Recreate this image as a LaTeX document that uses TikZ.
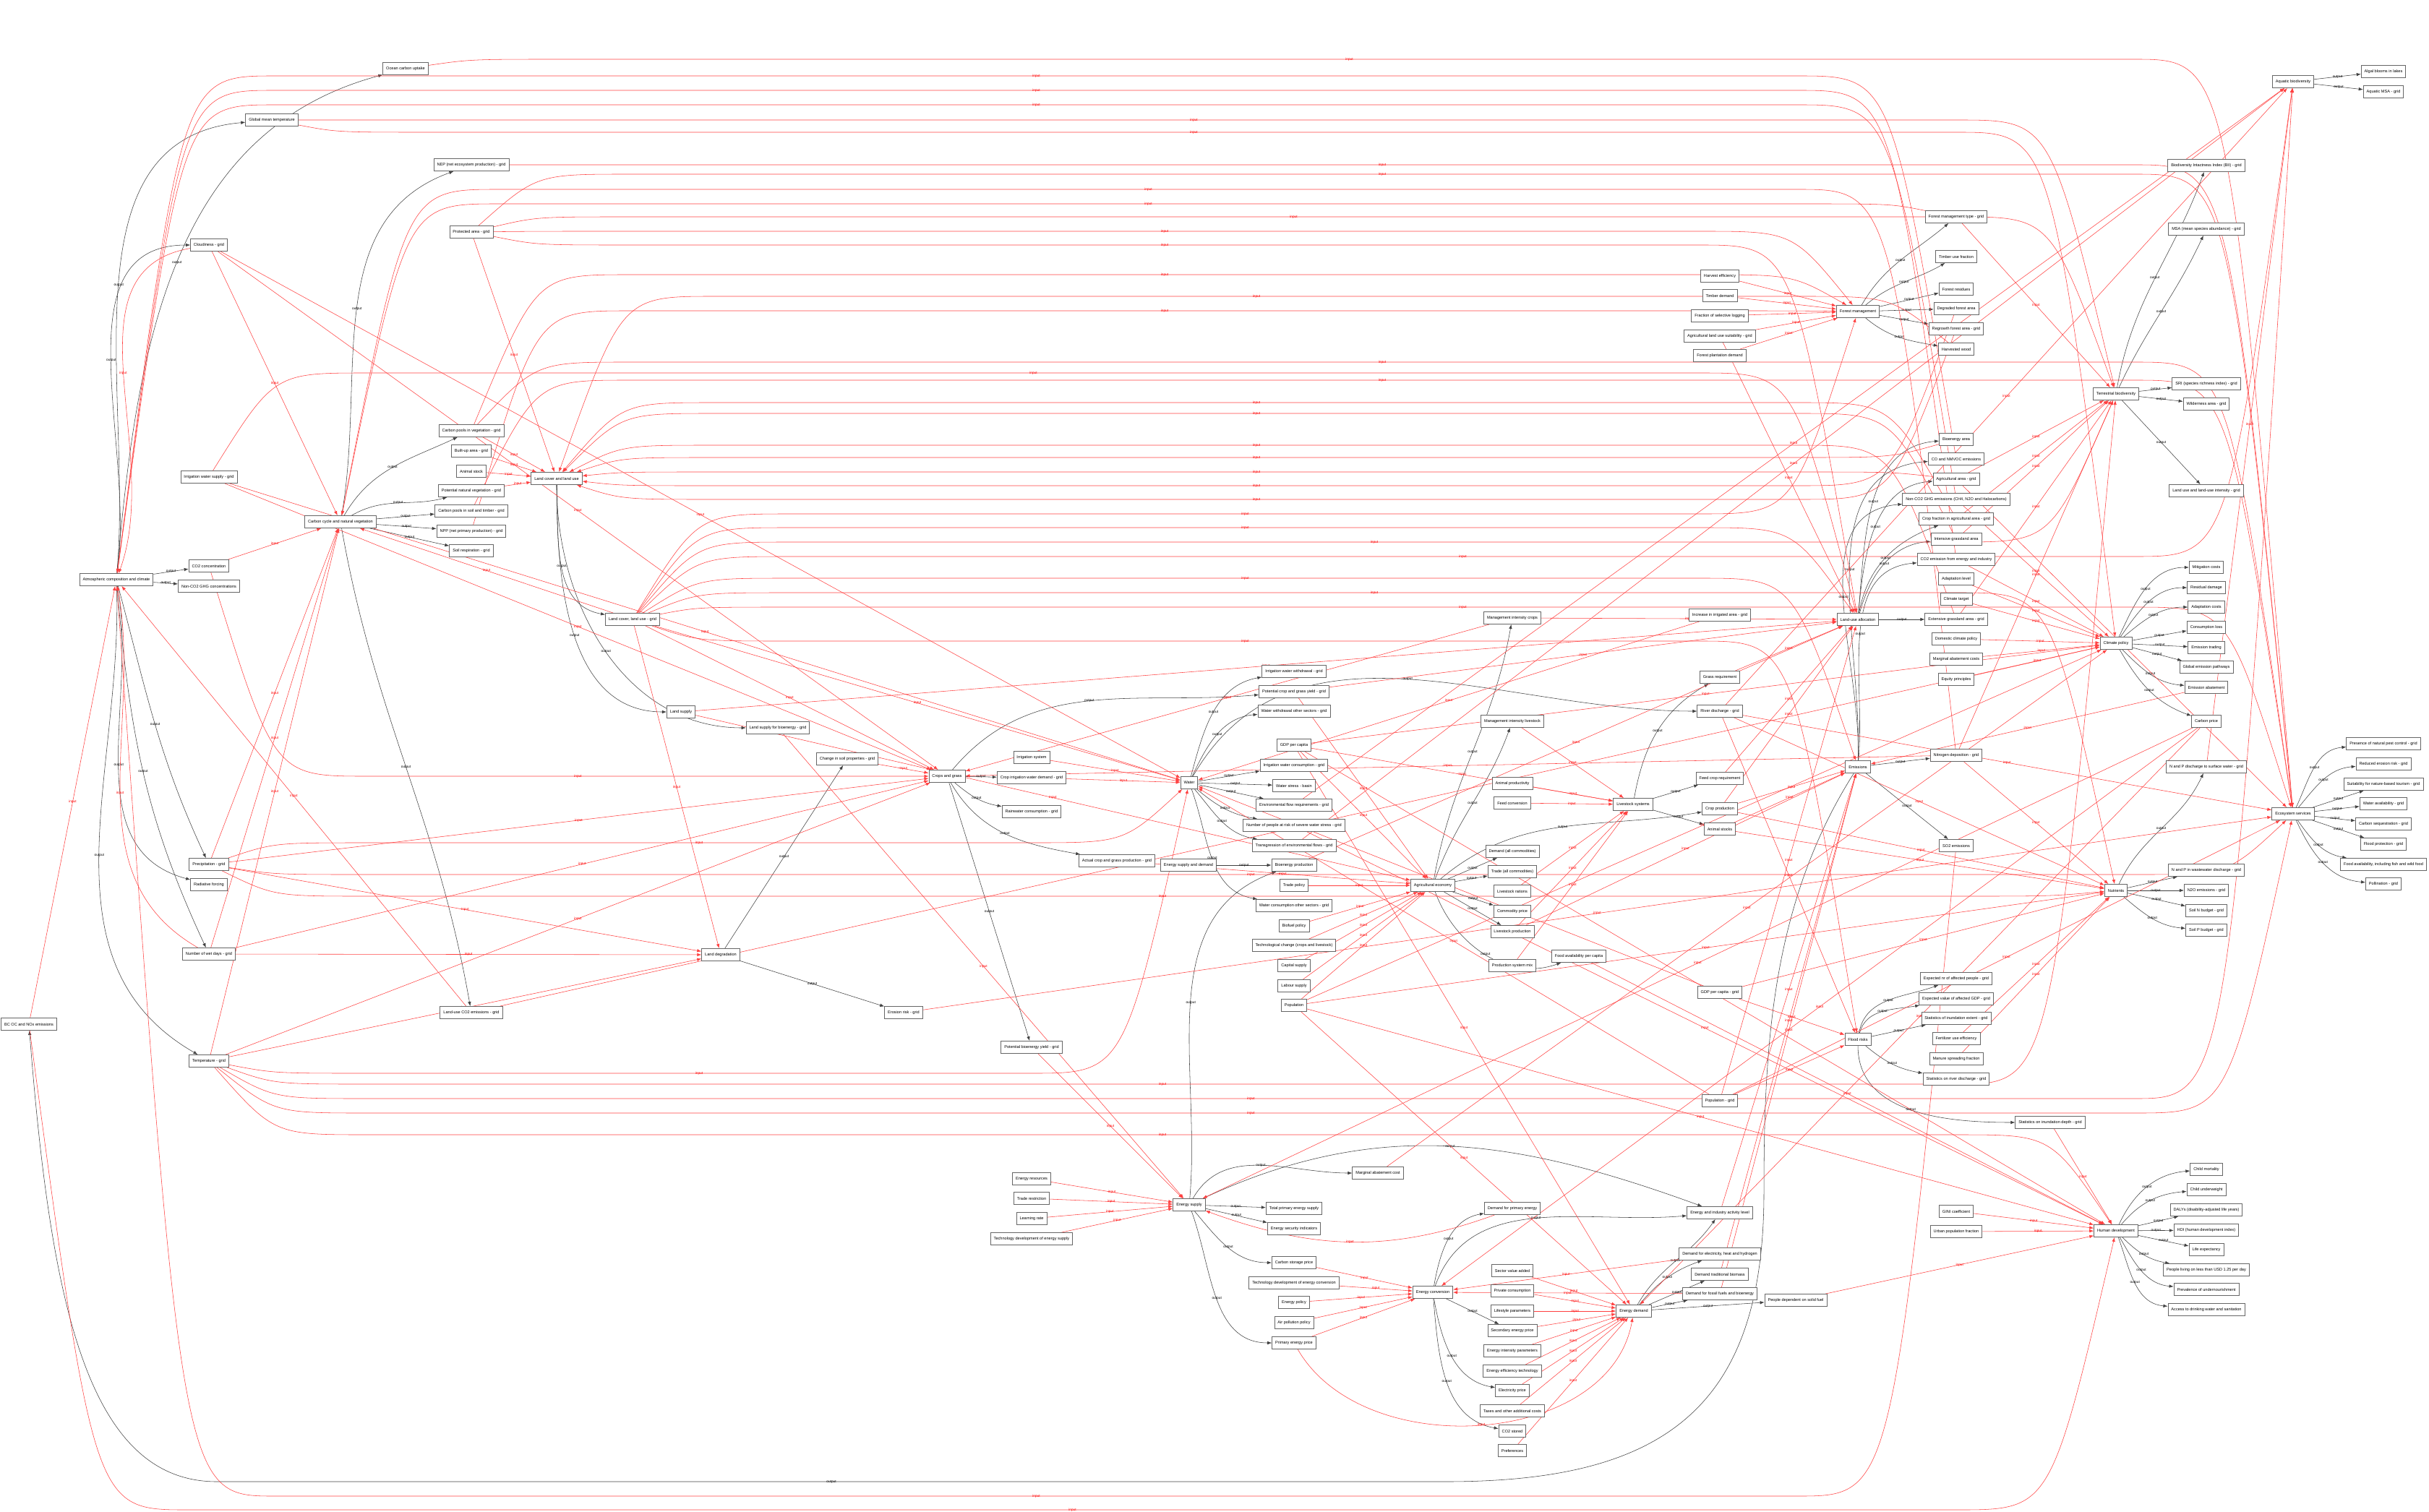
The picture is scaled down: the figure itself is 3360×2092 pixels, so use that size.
\documentclass[tikz,border=0pt]{standalone}
\usepackage{fontspec}
\setmainfont{Liberation Sans}
\usetikzlibrary{arrows.meta,calc}
\pgfdeclarelayer{back}
\pgfdeclarelayer{bg}
\pgfsetlayers{back,bg,main}
\tikzset{
 box/.style={draw=black!60, line width=0.9pt, fill=white, font=\fontsize{5.6}{6.5}\selectfont, inner xsep=4.5pt, inner ysep=1pt, minimum height=17pt},
 inp/.style={draw=red!75, line width=0.55pt, -{Latex[length=6pt,width=4.5pt]}},
 outp/.style={draw=black!75, line width=0.55pt, -{Latex[length=6pt,width=4.5pt]}},
 li/.style={font=\fontsize{4.8}{5}\selectfont, text=red, inner sep=0.5pt},
 lo/.style={font=\fontsize{4.8}{5}\selectfont, text=black, inner sep=0.5pt},
}
\newcommand\ist[2]{\draw[inp] (#1) -- node[li]{input} (#2);}
\newcommand\ost[2]{\draw[outp] (#1) -- node[lo]{output} (#2);}
\newcommand\icv[4]{\draw[inp] (#1) to[out=#3,in=#4] node[li]{input} (#2);}
\newcommand\ocv[4]{\draw[outp] (#1) to[out=#3,in=#4] node[lo]{output} (#2);}
\newcommand\fwe[3]{\draw[inp] let \p1=(#1), \p2=(#2) in (#1) .. controls ({\x1+90pt},{-#3pt}) .. ({\x1+220pt},{-#3pt}) -- node[li]{input} ({\x2-220pt},{-#3pt}) .. controls ({\x2-90pt},{-#3pt}) .. (#2);}
\newcommand\bwe[3]{\draw[inp] let \p1=(#1), \p2=(#2) in (#1) .. controls ({\x1-90pt},{-#3pt}) .. ({\x1-220pt},{-#3pt}) -- node[li]{input} ({\x2+220pt},{-#3pt}) .. controls ({\x2+90pt},{-#3pt}) .. (#2);}
\begin{document}
\begin{tikzpicture}[x=1pt,y=1pt]
\useasboundingbox (0,0) rectangle (3360,-2092);
\begin{pgfonlayer}{back}
\fill[white] (0,0) rectangle (3360,-2092);
\end{pgfonlayer}
% ---------- nodes ----------
\node[box] (bcoc) at (40,-1417) {BC OC and NOx emissions};
\node[box] (atm) at (161,-802) {Atmospheric composition and climate};
\node[box] (co2c) at (289,-783) {CO2 concentration};
\node[box] (nonco2c) at (289,-811) {Non-CO2 GHG concentrations};
\node[box] (cloud) at (289,-339) {Cloudiness - grid};
\node[box] (precip) at (289,-1196) {Precipitation - grid};
\node[box] (radf) at (289,-1224) {Radiative forcing};
\node[box] (wetdays) at (289,-1320) {Number of wet days - grid};
\node[box] (temp) at (289,-1468) {Temperature - grid};
\node[box] (irrsup) at (289,-660) {Irrigation water supply - grid};
\node[box] (gmt) at (376,-166) {Global mean temperature};
\node[box] (ocean) at (561,-95) {Ocean carbon uptake};
\node[box] (ccnv) at (471,-722) {Carbon cycle and natural vegetation};
\node[box] (nep) at (652,-228) {NEP (net ecosystem production) - grid};
\node[box] (prot) at (652,-321) {Protected area - grid};
\node[box] (cpveg) at (652,-596) {Carbon pools in vegetation - grid};
\node[box] (built) at (652,-624) {Built-up area - grid};
\node[box] (animst) at (652,-652) {Animal stock};
\node[box] (pnv) at (652,-679) {Potential natural vegetation - grid};
\node[box] (cpsoil) at (652,-707) {Carbon pools in soil and timber - grid};
\node[box] (npp) at (652,-735) {NPP (net primary production) - grid};
\node[box] (soilresp) at (652,-762) {Soil respiration - grid};
\node[box] (luco2) at (652,-1401) {Land-use CO2 emissions - grid};
\node[box] (lclu) at (770,-662) {Land cover and land use};
\node[box] (lclug) at (875,-857) {Land cover, land use - grid};
\node[box] (lsup) at (942,-985) {Land supply};
\node[box] (lsupbio) at (1076,-1007) {Land supply for bioenergy - grid};
\node[box] (soilprop) at (1172,-1050) {Change in soil properties - grid};
\node[box] (landdeg) at (997,-1321) {Land degradation};
\node[box] (erosion) at (1250,-1401) {Erosion risk - grid};
\node[box] (crops) at (1310,-1074) {Crops and grass};
\node[box] (irrsys) at (1427,-1048) {Irrigation system};
\node[box] (cropirr) at (1427,-1076) {Crop irrigation water demand - grid};
\node[box] (rainw) at (1427,-1123) {Rainwater consumption - grid};
\node[box] (actprod) at (1545,-1191) {Actual crop and grass production - grid};
\node[box] (potbio) at (1427,-1449) {Potential bioenergy yield - grid};
\node[box] (enres) at (1427,-1631) {Energy resources};
\node[box] (traderes) at (1427,-1658) {Trade restriction};
\node[box] (learn) at (1427,-1686) {Learning rate};
\node[box] (techsup) at (1427,-1714) {Technology development of energy supply};
\node[box] (water) at (1645,-1083) {Water};
\node[box] (esd) at (1644,-1197) {Energy supply and demand};
\node[box] (esup) at (1645,-1667) {Energy supply};
\node[box] (irrwd) at (1790,-929) {Irrigation water withdrawal - grid};
\node[box] (potyield) at (1790,-957) {Potential crop and grass yield - grid};
\node[box] (wwother) at (1790,-984) {Water withdrawal other sectors - grid};
\node[box] (gdppc) at (1790,-1031) {GDP per capita};
\node[box] (irrcons) at (1790,-1059) {Irrigation water consumption - grid};
\node[box] (wstress) at (1790,-1087) {Water stress - basin};
\node[box] (envflow) at (1790,-1114) {Environmental flow requirements - grid};
\node[box] (nrisk) at (1790,-1142) {Number of people at risk of severe water stress - grid};
\node[box] (transg) at (1790,-1170) {Transgression of environmental flows - grid};
\node[box] (bioprod) at (1790,-1197) {Bioenergy production};
\node[box] (tradepol) at (1790,-1225) {Trade policy};
\node[box] (wcother) at (1790,-1253) {Water consumption other sectors - grid};
\node[box] (biofuel) at (1790,-1281) {Biofuel policy};
\node[box] (techchg) at (1790,-1308) {Technological change (crops and livestock)};
\node[box] (capital) at (1790,-1336) {Capital supply};
\node[box] (labour) at (1790,-1364) {Labour supply};
\node[box] (pop) at (1790,-1391) {Population};
\node[box] (tpes) at (1790,-1672) {Total primary energy supply};
\node[box] (ensec) at (1790,-1700) {Energy security indicators};
\node[box] (cstorp) at (1790,-1747) {Carbon storage price};
\node[box] (techconv) at (1790,-1775) {Technology development of energy conversion};
\node[box] (enpol) at (1790,-1802) {Energy policy};
\node[box] (airpol) at (1790,-1830) {Air pollution policy};
\node[box] (primp) at (1790,-1858) {Primary energy price};
\node[box] (mac) at (1906,-1623) {Marginal abatement cost};
\node[box] (ageco) at (1982,-1225) {Agricultural economy};
\node[box] (enconv) at (1982,-1788) {Energy conversion};
\node[box] (microps) at (2092,-855) {Management intensity crops};
\node[box] (milive) at (2092,-998) {Management intensity livestock};
\node[box] (animprod) at (2092,-1084) {Animal productivity};
\node[box] (feedconv) at (2092,-1111) {Feed conversion};
\node[box] (demand) at (2092,-1178) {Demand (all commodities)};
\node[box] (trade) at (2092,-1206) {Trade (all commodities)};
\node[box] (liverat) at (2092,-1233) {Livestock rations};
\node[box] (comprice) at (2092,-1261) {Commodity price};
\node[box] (liveprod) at (2092,-1289) {Livestock production};
\node[box] (prodmix) at (2092,-1336) {Production system mix};
\node[box] (demprim) at (2092,-1672) {Demand for primary energy};
\node[box] (secval) at (2092,-1758) {Sector value added};
\node[box] (privcons) at (2092,-1786) {Private consumption};
\node[box] (lifestyle) at (2092,-1814) {Lifestyle parameters};
\node[box] (secprice) at (2092,-1841) {Secondary energy price};
\node[box] (enint) at (2092,-1869) {Energy intensity parameters};
\node[box] (eneff) at (2092,-1897) {Energy efficiency technology};
\node[box] (elecp) at (2092,-1924) {Electricity price};
\node[box] (taxes) at (2092,-1952) {Taxes and other additional costs};
\node[box] (co2stored) at (2092,-1980) {CO2 stored};
\node[box] (prefs) at (2092,-2007) {Preferences};
\node[box] (foodav) at (2184,-1323) {Food availability per capita};
\node[box] (livesys) at (2259,-1113) {Livestock systems};
\node[box] (endem) at (2260,-1814) {Energy demand};
\node[box] (harvest) at (2379,-382) {Harvest efficiency};
\node[box] (timberdem) at (2379,-409) {Timber demand};
\node[box] (selog) at (2379,-437) {Fraction of selective logging};
\node[box] (agsuit) at (2379,-465) {Agricultural land use suitability - grid};
\node[box] (plantdem) at (2379,-492) {Forest plantation demand};
\node[box] (incirr) at (2379,-851) {Increase in irrigated area - grid};
\node[box] (grassreq) at (2379,-937) {Grass requirement};
\node[box] (river) at (2379,-984) {River discharge - grid};
\node[box] (feedcrop) at (2379,-1077) {Feed crop requirement};
\node[box] (cropprod) at (2379,-1119) {Crop production};
\node[box] (animstocks) at (2379,-1147) {Animal stocks};
\node[box] (gdpgrid) at (2379,-1373) {GDP per capita - grid};
\node[box] (popgrid) at (2379,-1523) {Population - grid};
\node[box] (eial) at (2379,-1678) {Energy and industry activity level};
\node[box] (demelec) at (2379,-1735) {Demand for electricity, heat and hydrogen};
\node[box] (demtrad) at (2379,-1763) {Demand traditional biomass};
\node[box] (demfossil) at (2379,-1790) {Demand for fossil fuels and bioenergy};
\node[box] (solidfuel) at (2484,-1799) {People dependent on solid fuel};
\node[box] (forman) at (2570,-431) {Forest management};
\node[box] (luall) at (2570,-857) {Land-use allocation};
\node[box] (emis) at (2570,-1061) {Emissions};
\node[box] (flood) at (2570,-1438) {Flood risks};
\node[box] (fmtype) at (2706,-300) {Forest management type - grid};
\node[box] (timberuse) at (2706,-355) {Timber use fraction};
\node[box] (forres) at (2706,-400) {Forest residues};
\node[box] (degfor) at (2706,-427) {Degraded forest area};
\node[box] (regrow) at (2706,-455) {Regrowth forest area - grid};
\node[box] (harvwood) at (2706,-483) {Harvested wood};
\node[box] (bioarea) at (2706,-608) {Bioenergy area};
\node[box] (conmvoc) at (2706,-635) {CO and NMVOC emissions};
\node[box] (agarea) at (2706,-663) {Agricultural area - grid};
\node[box] (nonco2e) at (2706,-691) {Non-CO2 GHG emissions (CH4, N2O and Halocarbons)};
\node[box] (cropfrac) at (2706,-718) {Crop fraction in agricultural area - grid};
\node[box] (intgrass) at (2706,-746) {Intensive grassland area};
\node[box] (co2ei) at (2706,-774) {CO2 emission from energy and industry};
\node[box] (adapt) at (2706,-801) {Adaptation level};
\node[box] (ctarget) at (2706,-829) {Climate target};
\node[box] (extgrass) at (2706,-857) {Extensive grassland area - grid};
\node[box] (domclim) at (2706,-884) {Domestic climate policy};
\node[box] (macs) at (2706,-912) {Marginal abatement costs};
\node[box] (equity) at (2706,-940) {Equity principles};
\node[box] (ndep) at (2706,-1045) {Nitrogen deposition - grid};
\node[box] (so2) at (2706,-1170) {SO2 emissions};
\node[box] (expppl) at (2706,-1354) {Expected nr of affected people - grid};
\node[box] (expgdp) at (2706,-1382) {Expected value of affected GDP - grid};
\node[box] (inundext) at (2706,-1409) {Statistics of inundation extent - grid};
\node[box] (fert) at (2706,-1437) {Fertilizer use efficiency};
\node[box] (manure) at (2706,-1465) {Manure spreading fraction};
\node[box] (statriver) at (2706,-1493) {Statistics on river discharge - grid};
\node[box] (gini) at (2706,-1676) {GINI coefficient};
\node[box] (urban) at (2706,-1704) {Urban population fraction};
\node[box] (inunddepth) at (2836,-1553) {Statistics on inundation depth - grid};
\node[box] (terrbio) at (2927,-545) {Terrestrial biodiversity};
\node[box] (climpol) at (2927,-890) {Climate policy};
\node[box] (nutr) at (2927,-1232) {Nutrients};
\node[box] (humdev) at (2927,-1703) {Human development};
\node[box] (bii) at (3052,-229) {Biodiversity Intactness Index (BII) - grid};
\node[box] (msa) at (3052,-317) {MSA (mean species abundance) - grid};
\node[box] (sri) at (3052,-531) {SRI (species richness index) - grid};
\node[box] (wild) at (3052,-559) {Wilderness area - grid};
\node[box] (luint) at (3052,-679) {Land use and land-use intensity - grid};
\node[box] (mitc) at (3052,-785) {Mitigation costs};
\node[box] (resdam) at (3052,-813) {Residual damage};
\node[box] (adaptc) at (3052,-840) {Adaptation costs};
\node[box] (consl) at (3052,-868) {Consumption loss};
\node[box] (emtrade) at (3052,-896) {Emission trading};
\node[box] (gep) at (3052,-923) {Global emission pathways};
\node[box] (emabate) at (3052,-951) {Emission abatement};
\node[box] (cprice) at (3052,-998) {Carbon price};
\node[box] (npsurf) at (3052,-1061) {N and P discharge to surface water - grid};
\node[box] (npww) at (3052,-1204) {N and P in wastewater discharge - grid};
\node[box] (n2o) at (3052,-1232) {N2O emissions - grid};
\node[box] (soiln) at (3052,-1260) {Soil N budget - grid};
\node[box] (soilp) at (3052,-1287) {Soil P budget - grid};
\node[box] (childmort) at (3052,-1618) {Child mortality};
\node[box] (childuw) at (3052,-1646) {Child underweight};
\node[box] (dalys) at (3052,-1674) {DALYs (disability-adjusted life years)};
\node[box] (hdi) at (3052,-1702) {HDI (human development index)};
\node[box] (lifeexp) at (3052,-1729) {Life expectancy};
\node[box] (poverty) at (3052,-1757) {People living on less than USD 1.25 per day};
\node[box] (undernour) at (3052,-1784) {Prevalence of undernourishment};
\node[box] (drink) at (3052,-1812) {Access to drinking water and sanitation};
\node[box] (aqbio) at (3172,-113) {Aquatic biodiversity};
\node[box] (ecoserv) at (3172,-1126) {Ecosystem services};
\node[box] (algal) at (3297,-99) {Algal blooms in lakes};
\node[box] (aqmsa) at (3297,-127) {Aquatic MSA - grid};
\node[box] (pest) at (3297,-1029) {Presence of natural pest control - grid};
\node[box] (rederos) at (3297,-1057) {Reduced erosion risk - grid};
\node[box] (tourism) at (3297,-1085) {Suitability for nature-based tourism - grid};
\node[box] (wateravail) at (3297,-1112) {Water availability - grid};
\node[box] (cseq) at (3297,-1140) {Carbon sequestration - grid};
\node[box] (floodprot) at (3297,-1168) {Flood protection - grid};
\node[box] (foodwild) at (3297,-1196) {Food availability, including fish and wild food};
\node[box] (pollin) at (3297,-1223) {Pollination - grid};
% ---------- edges ----------
\begin{pgfonlayer}{bg}
% outputs
\ocv{atm}{ocean}{85}{195} \ocv{atm}{gmt}{85}{185} \ocv{atm}{cloud}{82}{180}
\ost{atm}{co2c} \ost{atm}{nonco2c}
\ocv{atm}{precip}{-75}{115} \ocv{atm}{radf}{-80}{165} \ocv{atm}{wetdays}{-85}{115} \ocv{atm}{temp}{-88}{150}
\ocv{ccnv}{nep}{80}{200} \ocv{ccnv}{cpveg}{60}{205} \ocv{ccnv}{pnv}{30}{195}
\ost{ccnv}{cpsoil} \ost{ccnv}{npp} \ost{ccnv}{soilresp} \ocv{ccnv}{luco2}{-80}{100}
\ocv{lclu}{lclug}{-88}{170} \ocv{lclu}{lsup}{-90}{180} \ocv{lclu}{lsupbio}{-90}{180}
\ost{landdeg}{soilprop} \ost{landdeg}{erosion}
\ost{crops}{cropirr} \ocv{crops}{rainw}{-40}{170} \ocv{crops}{actprod}{-60}{170}
\ost{crops}{potbio} \ocv{crops}{potyield}{50}{185}
\ocv{water}{irrwd}{75}{190} \ocv{water}{wwother}{65}{185} \ost{water}{irrcons}
\ost{water}{wstress} \ost{water}{envflow} \ocv{water}{nrisk}{-40}{170}
\ocv{water}{transg}{-50}{170} \ocv{water}{wcother}{-70}{170} \ocv{water}{river}{60}{180}
\ost{esd}{bioprod} \ocv{esup}{bioprod}{85}{200}
\ocv{esup}{mac}{60}{180} \ost{esup}{tpes} \ost{esup}{ensec}
\ocv{esup}{cstorp}{-50}{180} \ocv{esup}{primp}{-70}{180} \ocv{esup}{eial}{25}{160}
\ocv{ageco}{microps}{80}{260} \ocv{ageco}{milive}{70}{250}
\ost{ageco}{demand} \ost{ageco}{trade} \ost{ageco}{comprice} \ost{ageco}{liveprod}
\ocv{ageco}{foodav}{-70}{200} \ocv{ageco}{cropprod}{40}{190}
\ocv{livesys}{grassreq}{80}{210} \ost{livesys}{feedcrop} \ost{livesys}{animstocks}
\ocv{enconv}{demprim}{80}{190} \ocv{enconv}{eial}{70}{185} \ost{enconv}{secprice}
\ocv{enconv}{elecp}{-80}{170} \ocv{enconv}{co2stored}{-85}{170}
\ocv{endem}{eial}{60}{235} \ocv{endem}{demelec}{50}{200}
\ost{endem}{demtrad} \ost{endem}{demfossil} \ost{endem}{solidfuel}
\ocv{forman}{fmtype}{60}{220} \ocv{forman}{timberuse}{40}{210}
\ost{forman}{forres} \ost{forman}{degfor} \ost{forman}{regrow} \ocv{forman}{harvwood}{-40}{170}
\ocv{luall}{cropfrac}{80}{200} \ocv{luall}{intgrass}{75}{185} \ost{luall}{extgrass}
\ocv{luall}{bioarea}{85}{185} \ocv{luall}{agarea}{85}{185}
\ocv{emis}{co2ei}{85}{185} \ocv{emis}{conmvoc}{88}{185} \ocv{emis}{nonco2e}{88}{185}
\ost{emis}{ndep} \ost{emis}{so2}
\draw[outp] (emis) .. controls (2450,-1250) and (2440,-1450) .. (2440,-1650) .. controls (2440,-1950) and (2300,-2050) .. (2000,-2050) -- node[lo]{output} (300,-2050) .. controls (120,-2050) and (70,-1800) .. (bcoc);
\ocv{terrbio}{bii}{80}{250} \ocv{terrbio}{msa}{65}{245} \ost{terrbio}{sri} \ost{terrbio}{wild} \ost{terrbio}{luint}
\ost{aqbio}{algal} \ost{aqbio}{aqmsa}
\ocv{climpol}{mitc}{65}{180} \ocv{climpol}{resdam}{55}{180} \ocv{climpol}{adaptc}{40}{180}
\ost{climpol}{consl} \ost{climpol}{emtrade} \ost{climpol}{gep}
\ocv{climpol}{emabate}{-45}{175} \ocv{climpol}{cprice}{-60}{160}
\ocv{nutr}{npsurf}{65}{245} \ost{nutr}{npww} \ost{nutr}{n2o} \ost{nutr}{soiln} \ocv{nutr}{soilp}{-40}{175}
\ocv{ecoserv}{pest}{65}{185} \ocv{ecoserv}{rederos}{50}{185} \ost{ecoserv}{tourism}
\ost{ecoserv}{wateravail} \ost{ecoserv}{cseq} \ost{ecoserv}{floodprot}
\ocv{ecoserv}{foodwild}{-55}{170} \ocv{ecoserv}{pollin}{-65}{175}
\ost{flood}{inundext} \ocv{flood}{statriver}{-40}{170} \ocv{flood}{inunddepth}{-90}{180}
\ocv{flood}{expppl}{80}{200} \ocv{flood}{expgdp}{75}{190}
\ocv{humdev}{childmort}{65}{185} \ocv{humdev}{childuw}{50}{185} \ost{humdev}{dalys}
\ost{humdev}{hdi} \ost{humdev}{lifeexp} \ocv{humdev}{poverty}{-45}{170}
\ocv{humdev}{undernour}{-60}{175} \ocv{humdev}{drink}{-70}{175}
% inputs: atmosphere
\bwe{co2ei}{atm}{125} \bwe{nonco2e}{atm}{145} \bwe{conmvoc}{atm}{105} \bwe{so2}{atm}{2070}
\ist{bcoc}{atm} \icv{cloud}{atm}{190}{70} \icv{wetdays}{atm}{150}{-80} \ist{luco2}{atm}
% carbon cycle
\ist{co2c}{ccnv} \ist{cloud}{ccnv} \ist{precip}{ccnv} \ist{wetdays}{ccnv} \ist{temp}{ccnv} \ist{lclug}{ccnv}
\bwe{ndep}{ccnv}{262} \bwe{fmtype}{ccnv}{282}
% land cover and land use
\ist{prot}{lclu} \ist{cpveg}{lclu} \ist{built}{lclu} \ist{animst}{lclu} \ist{pnv}{lclu}
\bwe{cropfrac}{lclu}{557} \bwe{intgrass}{lclu}{572} \bwe{extgrass}{lclu}{616} \bwe{bioarea}{lclu}{633}
\bwe{agarea}{lclu}{653} \bwe{degfor}{lclu}{672} \bwe{regrow}{lclu}{691} \bwe{harvwood}{lclu}{410}
% crops and grass
\ist{cloud}{crops} \ist{precip}{crops} \ist{wetdays}{crops} \ist{temp}{crops} \ist{soilprop}{crops}
\ist{lclug}{crops} \ist{irrsup}{crops} \fwe{co2c}{crops}{1074} \ist{microps}{crops} \ist{ndep}{crops}
% water
\ist{irrsys}{water} \ist{cropirr}{water} \fwe{precip}{water}{1166} \fwe{temp}{water}{1485}
\ist{lclug}{water} \ist{incirr}{water} \ist{popgrid}{water} \ist{gdpgrid}{water} \ist{irrsup}{water} \ist{cloud}{water}
% land degradation
\ist{lclug}{landdeg} \ist{precip}{landdeg} \ist{wetdays}{landdeg} \ist{temp}{landdeg}
% forest management
\ist{harvest}{forman} \ist{timberdem}{forman} \ist{selog}{forman} \ist{agsuit}{forman} \ist{plantdem}{forman}
\fwe{lclug}{forman}{711} \fwe{cpveg}{forman}{380} \fwe{npp}{forman}{430} \fwe{prot}{forman}{320}
% land-use allocation
\fwe{lclug}{luall}{730} \ist{potyield}{luall} \fwe{prot}{luall}{339} \ist{cropprod}{luall} \ist{grassreq}{luall}
\ist{lsup}{luall} \ist{bioprod}{luall} \ist{agsuit}{luall} \ist{popgrid}{luall} \ist{feedcrop}{luall}
\ist{microps}{luall} \fwe{irrsup}{luall}{516}
% emissions
\ist{emabate}{emis} \ist{animstocks}{emis} \ist{liveprod}{emis} \ist{eial}{emis} \ist{demfossil}{emis}
\ist{cropprod}{emis} \ist{demtrad}{emis} \fwe{lclug}{emis}{800}
% terrestrial biodiversity
\fwe{lclug}{terrbio}{750} \fwe{temp}{terrbio}{1500} \ist{ndep}{terrbio} \fwe{prot}{terrbio}{300}
\ist{fmtype}{terrbio} \ist{agarea}{terrbio} \fwe{gmt}{terrbio}{166} \ist{intgrass}{terrbio}
\ist{extgrass}{terrbio} \ist{cropfrac}{terrbio}
% aquatic biodiversity
\ist{npsurf}{aqbio} \fwe{temp}{aqbio}{1520} \ist{river}{aqbio} \ist{envflow}{aqbio} \ist{transg}{aqbio}
\fwe{lclug}{aqbio}{770}
% climate policy
\ist{co2ei}{climpol} \ist{adapt}{climpol} \ist{ctarget}{climpol} \ist{domclim}{climpol} \ist{macs}{climpol}
\ist{equity}{climpol} \ist{mac}{climpol} \fwe{gmt}{climpol}{183} \ist{gdppc}{climpol} \ist{pop}{climpol}
\ist{nonco2e}{climpol} \ist{luco2}{climpol}
% nutrients
\ist{ndep}{nutr} \ist{fert}{nutr} \ist{manure}{nutr} \ist{animstocks}{nutr} \ist{cropprod}{nutr}
\ist{pop}{nutr} \fwe{lclug}{nutr}{820} \ist{river}{nutr} \ist{gdpgrid}{nutr} \fwe{precip}{nutr}{1240}
% ecosystem services
\fwe{ocean}{ecoserv}{82} \fwe{lclug}{ecoserv}{840} \fwe{cpveg}{ecoserv}{501} \fwe{cpsoil}{ecoserv}{526}
\fwe{nep}{ecoserv}{228} \fwe{temp}{ecoserv}{1540} \fwe{precip}{ecoserv}{1210} \fwe{prot}{ecoserv}{241}
\ist{river}{ecoserv} \ist{popgrid}{ecoserv} \ist{erosion}{ecoserv} \ist{agarea}{ecoserv}
% flood risks
\ist{river}{flood} \ist{popgrid}{flood} \ist{gdpgrid}{flood} \fwe{lclug}{flood}{887}
% human development
\ist{gini}{humdev} \ist{urban}{humdev} \ist{gdppc}{humdev} \ist{pop}{humdev} \ist{foodav}{humdev}
\ist{solidfuel}{humdev} \ist{nrisk}{humdev} \fwe{bcoc}{humdev}{2089} \ist{inunddepth}{humdev}
\fwe{temp}{humdev}{1570}
% agricultural economy
\ist{tradepol}{ageco} \ist{biofuel}{ageco} \ist{techchg}{ageco} \ist{capital}{ageco} \ist{labour}{ageco}
\ist{pop}{ageco} \ist{gdppc}{ageco} \ist{potyield}{ageco} \ist{actprod}{ageco} \ist{lsup}{ageco}
% livestock systems
\ist{animprod}{livesys} \ist{feedconv}{livesys} \ist{milive}{livesys} \ist{liverat}{livesys}
\ist{liveprod}{livesys} \ist{prodmix}{livesys} \ist{gdppc}{livesys}
% energy supply
\ist{enres}{esup} \ist{traderes}{esup} \ist{learn}{esup} \ist{techsup}{esup} \ist{potbio}{esup}
\ist{lsupbio}{esup} \icv{demprim}{esup}{200}{-20} \ist{cprice}{esup}
% energy conversion
\ist{cstorp}{enconv} \ist{techconv}{enconv} \ist{enpol}{enconv} \ist{airpol}{enconv} \ist{primp}{enconv}
\ist{demelec}{enconv} \ist{demfossil}{enconv} \ist{cprice}{enconv}
% energy demand
\ist{secval}{endem} \ist{privcons}{endem} \ist{lifestyle}{endem} \ist{secprice}{endem} \ist{enint}{endem}
\ist{eneff}{endem} \ist{elecp}{endem} \ist{taxes}{endem} \ist{prefs}{endem}
\icv{primp}{endem}{-60}{-100} \ist{gdppc}{endem} \ist{pop}{endem} \ist{cprice}{endem}
\end{pgfonlayer}
\end{tikzpicture}
\end{document}
